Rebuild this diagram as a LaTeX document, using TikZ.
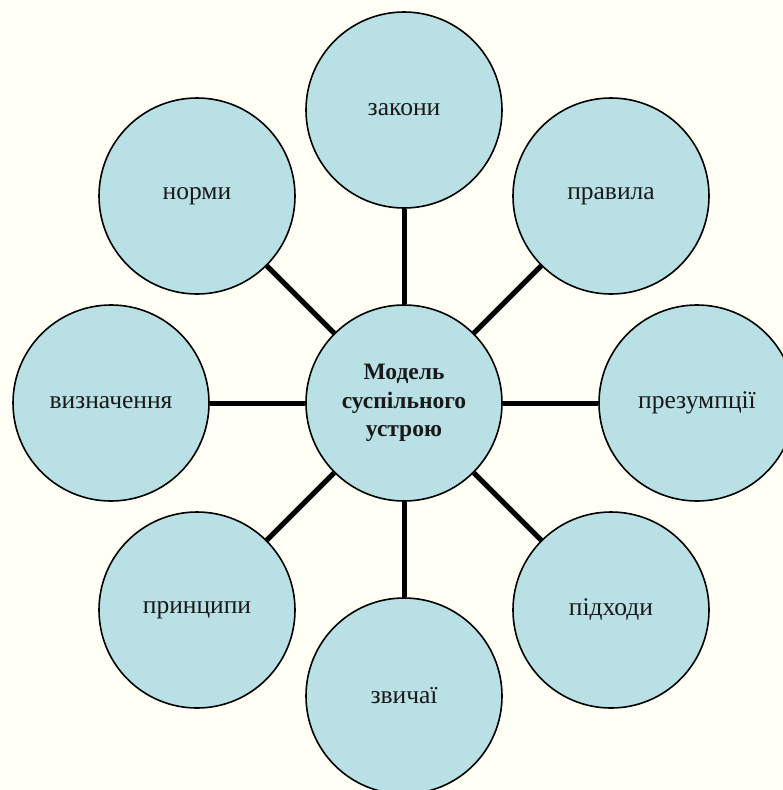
\documentclass[tikz,border=0pt]{standalone}
\usepackage{fontspec}
\setmainfont{Liberation Serif}
\definecolor{bgcream}{RGB}{255,255,246}
\definecolor{circfill}{RGB}{185,224,228}
\begin{document}
\begin{tikzpicture}[x=1pt,y=-1pt,
  bubble/.style={circle,draw=black,line width=1.6pt,fill=circfill,minimum size=196pt,inner sep=0pt,font=\fontsize{25.5}{30}\selectfont,text=black!90},
  hub/.style={bubble,font=\bfseries\fontsize{23.5}{28.5}\selectfont,align=center},
  link/.style={line width=5pt,black}]
\fill[bgcream] (0,0) rectangle (783,790);
\useasboundingbox (0,0) rectangle (783,790);
\begin{scope}
\clip (0,0) rectangle (783,790);
\node[hub] (c) at (404,403) {Модель\\суспільного\\устрою};
\node[bubble] (zak) at (404,110) {закони};
\node[bubble] (pra) at (611,196) {правила};
\node[bubble] (pre) at (697,403) {презумпції};
\node[bubble] (pid) at (611,610) {підходи};
\node[bubble] (zvy) at (404,696) {звичаї};
\node[bubble] (pry) at (197,610) {принципи};
\node[bubble] (vyz) at (111,403) {визначення};
\node[bubble] (nor) at (197,196) {норми};
\foreach \n in {zak,pra,pre,pid,zvy,pry,vyz,nor}
  \draw[link] (c) -- (\n);
\end{scope}
\end{tikzpicture}
\end{document}
